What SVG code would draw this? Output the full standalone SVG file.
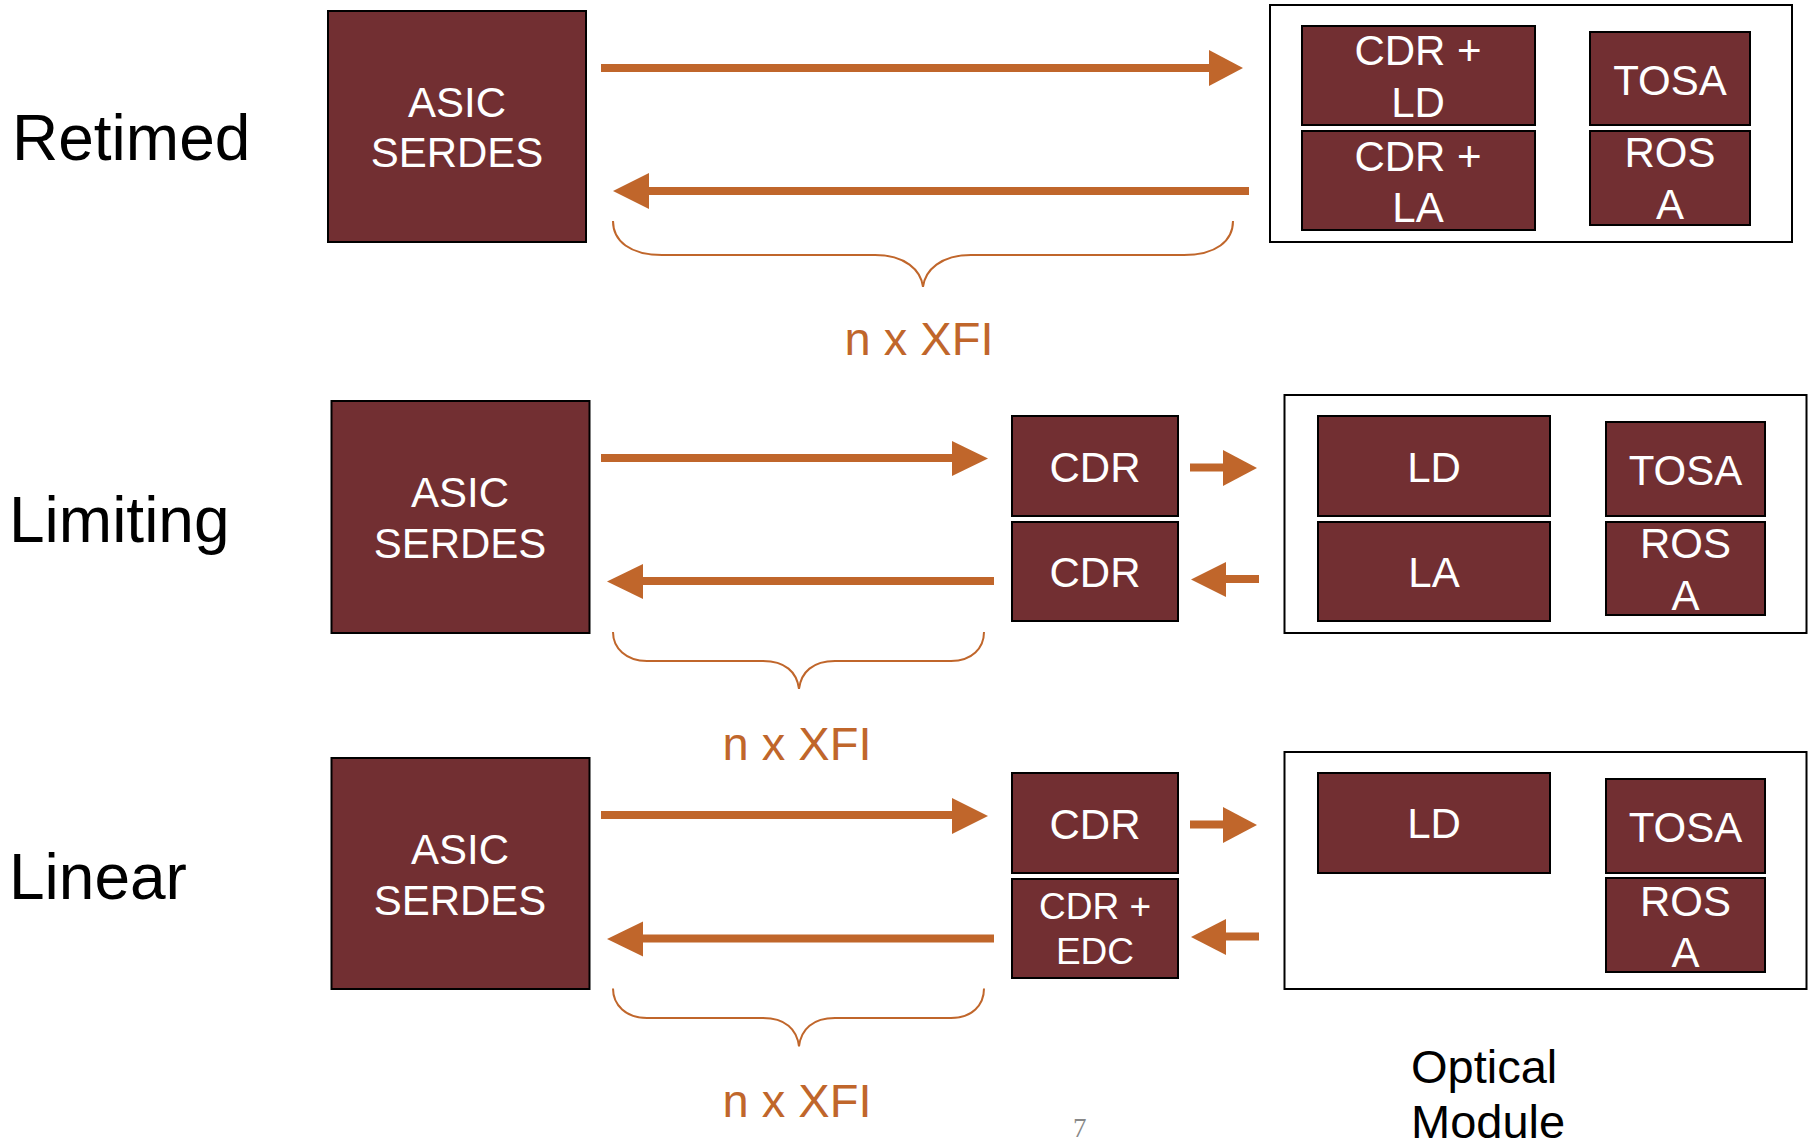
<svg xmlns="http://www.w3.org/2000/svg" width="1813" height="1146" viewBox="0 0 1813 1146">
<defs>
<style>
.blk{fill:#722F32;stroke:#000;stroke-width:2}
.mod{fill:#fff;stroke:#000;stroke-width:2}
.wt{font-family:"Liberation Sans",Arial,sans-serif;font-size:42px;fill:#fff;text-anchor:middle}
.lbl{font-family:"Liberation Sans",Arial,sans-serif;font-size:64px;fill:#000}
.xfi{font-family:"Liberation Sans",Arial,sans-serif;font-size:47px;fill:#C0662B;text-anchor:middle}
.ln{stroke:#C0662B;stroke-width:8;fill:none}
.hd{fill:#C0662B}
.br{stroke:#C0662B;stroke-width:2;fill:none}
</style>
</defs>
<rect width="1813" height="1146" fill="#fff"/>

<!-- labels -->
<text class="lbl" x="12" y="160">Retimed</text>
<text class="lbl" x="9" y="542">Limiting</text>
<text class="lbl" x="9" y="899">Linear</text>

<!-- Retimed row -->
<g id="asic1"><rect class="blk" x="328" y="11" width="258" height="231"/><text class="wt" x="457" y="117">ASIC</text><text class="wt" x="457" y="167">SERDES</text></g>
<g id="module1"><rect class="mod" x="1270" y="5" width="522" height="237"/></g>
<g id="cdrld1"><rect class="blk" x="1302" y="26" width="233" height="99"/><text class="wt" x="1418" y="65">CDR +</text><text class="wt" x="1418" y="117">LD</text></g>
<g id="cdrla1"><rect class="blk" x="1302" y="131" width="233" height="99"/><text class="wt" x="1418" y="171">CDR +</text><text class="wt" x="1418" y="222">LA</text></g>
<g id="tosa1"><rect class="blk" x="1590" y="32" width="160" height="93"/><text class="wt" x="1670" y="95">TOSA</text></g>
<g id="rosa1"><rect class="blk" x="1590" y="131" width="160" height="94"/><text class="wt" x="1670" y="167">ROS</text><text class="wt" x="1670" y="219">A</text></g>
<text class="xfi" x="919" y="355">n x XFI</text>

<!-- Limiting row -->
<g id="asic2"><rect class="blk" x="331.5" y="401" width="258" height="232"/><text class="wt" x="460" y="507">ASIC</text><text class="wt" x="460" y="558">SERDES</text></g>
<g id="cdr2a"><rect class="blk" x="1012" y="416" width="166" height="100"/><text class="wt" x="1095" y="482">CDR</text></g>
<g id="cdr2b"><rect class="blk" x="1012" y="522" width="166" height="99"/><text class="wt" x="1095" y="587">CDR</text></g>
<g id="module2"><rect class="mod" x="1284.5" y="395" width="522" height="238"/></g>
<g id="ld2"><rect class="blk" x="1318" y="416" width="232" height="100"/><text class="wt" x="1434" y="482">LD</text></g>
<g id="la2"><rect class="blk" x="1318" y="522" width="232" height="99"/><text class="wt" x="1434" y="587">LA</text></g>
<g id="tosa2"><rect class="blk" x="1606" y="422" width="159" height="94"/><text class="wt" x="1685.5" y="485">TOSA</text></g>
<g id="rosa2"><rect class="blk" x="1606" y="522" width="159" height="93"/><text class="wt" x="1685.5" y="558">ROS</text><text class="wt" x="1685.5" y="610">A</text></g>
<text class="xfi" x="797" y="760">n x XFI</text>

<!-- Linear row -->
<g id="asic3"><rect class="blk" x="331.5" y="758" width="258" height="231"/><text class="wt" x="460" y="864">ASIC</text><text class="wt" x="460" y="915">SERDES</text></g>
<g id="cdr3"><rect class="blk" x="1012" y="773" width="166" height="100"/><text class="wt" x="1095" y="839">CDR</text></g>
<g id="cdredc3"><rect class="blk" x="1012" y="879" width="166" height="99"/><text class="wt" x="1095" y="919" style="font-size:37px">CDR +</text><text class="wt" x="1095" y="964" style="font-size:37px">EDC</text></g>
<g id="module3"><rect class="mod" x="1284.5" y="752" width="522" height="237"/></g>
<g id="ld3"><rect class="blk" x="1318" y="773" width="232" height="100"/><text class="wt" x="1434" y="838">LD</text></g>
<g id="tosa3"><rect class="blk" x="1606" y="779" width="159" height="94"/><text class="wt" x="1685.5" y="842">TOSA</text></g>
<g id="rosa3"><rect class="blk" x="1606" y="878" width="159" height="94"/><text class="wt" x="1685.5" y="916">ROS</text><text class="wt" x="1685.5" y="967">A</text></g>
<text class="xfi" x="797" y="1117">n x XFI</text>

<!-- connectors -->
<g id="connectors">
<!-- row 1 -->
<line class="ln" x1="601" y1="68" x2="1210" y2="68"/><polygon class="hd" points="1209,50 1243,68 1209,86"/>
<line class="ln" x1="647" y1="191" x2="1249" y2="191"/><polygon class="hd" points="649,173 613,191 649,209"/>
<path class="br" d="M613,221 C613,241 630,255 662,255 L875,255 C905,255 921,270 923,287 C925,270 941,255 971,255 L1184,255 C1216,255 1233,241 1233,221"/>
<!-- row 2 -->
<line class="ln" x1="601" y1="458" x2="954" y2="458"/><polygon class="hd" points="952,441 988,458.5 952,476"/>
<line class="ln" x1="641" y1="581" x2="994" y2="581"/><polygon class="hd" points="643,564 607,581.5 643,599"/>
<line class="ln" x1="1190" y1="467.5" x2="1225" y2="467.5"/><polygon class="hd" points="1223,450 1257,468 1223,486"/>
<line class="ln" x1="1224" y1="579" x2="1259" y2="579"/><polygon class="hd" points="1226,562 1191,579.5 1226,597"/>
<path class="br" d="M613,632 C613,648 626,661 647,661 L763,661 C785,661 797,672 799,689 C801,672 813,661 835,661 L951,661 C972,661 984,648 984,632"/>
<!-- row 3 -->
<line class="ln" x1="601" y1="815" x2="954" y2="815"/><polygon class="hd" points="952,798 988,816 952,834"/>
<line class="ln" x1="641" y1="938.5" x2="994" y2="938.5"/><polygon class="hd" points="643,921.5 607,939 643,956.5"/>
<line class="ln" x1="1190" y1="824.5" x2="1225" y2="824.5"/><polygon class="hd" points="1223,807 1257,825 1223,843"/>
<line class="ln" x1="1224" y1="936.5" x2="1259" y2="936.5"/><polygon class="hd" points="1226,919 1191,937 1226,955"/>
<path class="br" d="M613,988.5 C613,1005 626,1018 647,1018 L763,1018 C785,1018 797,1029 799,1046.5 C801,1029 813,1018 835,1018 L951,1018 C972,1018 984,1005 984,988.5"/>
</g>

<text x="1073" y="1137" style="font-family:'Liberation Serif',serif;font-size:27px;fill:#888">7</text>
<text x="1411" y="1083" style="font-family:'Liberation Sans',Arial,sans-serif;font-size:47px;fill:#000">Optical</text>
<text x="1411" y="1138" style="font-family:'Liberation Sans',Arial,sans-serif;font-size:47px;fill:#000">Module</text>
</svg>
